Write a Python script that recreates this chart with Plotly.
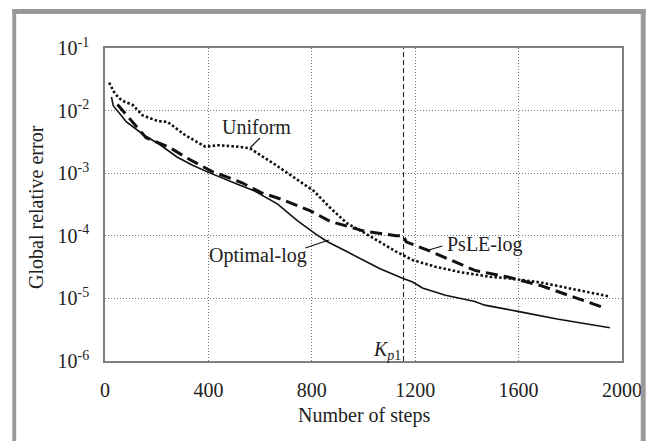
import plotly.graph_objects as go

# ---------------- data ----------------
optimal_x = [25, 32, 83, 153, 210, 280, 337, 398, 515, 579, 668, 744, 814, 859, 935, 999,
             1062, 1151, 1190, 1228, 1317, 1431, 1469, 1597, 1749, 1953]
optimal_y = [1.65e-2, 1.2e-2, 6.6e-3, 4.0e-3, 2.9e-3, 1.8e-3, 1.35e-3, 1.04e-3, 6.6e-4, 5.2e-4,
             3.2e-4, 1.75e-4, 1.07e-4, 8.1e-5, 5.6e-5, 4.1e-5, 3.0e-5, 2.1e-5, 1.83e-5, 1.47e-5,
             1.12e-5, 8.9e-6, 7.8e-6, 6.2e-6, 4.7e-6, 3.4e-6]

psle_x = [48, 159, 248, 318, 413, 528, 604, 693, 795, 871, 999, 1126, 1155, 1165, 1253,
          1380, 1431, 1558, 1686, 1813, 1940]
psle_y = [1.25e-2, 3.7e-3, 2.6e-3, 1.74e-3, 1.07e-3, 7.1e-4, 4.9e-4, 3.7e-4, 2.5e-4, 1.7e-4,
          1.2e-4, 1.0e-4, 1.0e-4, 8.0e-5, 5.8e-5, 3.4e-5, 2.8e-5, 2.2e-5, 1.6e-5, 1.05e-5, 6.9e-6]

uniform_x = [16, 38, 64, 108, 146, 204, 242, 312, 388, 439, 515, 560, 655, 732, 808, 871,
             935, 999, 1062, 1126, 1190, 1279, 1380, 1495, 1558, 1686, 1813, 1953]
uniform_y = [2.8e-2, 1.87e-2, 1.46e-2, 1.22e-2, 8.4e-3, 6.8e-3, 6.6e-3, 4.0e-3, 2.65e-3, 2.8e-3,
             2.65e-3, 2.5e-3, 1.4e-3, 8.5e-4, 5.2e-4, 2.8e-4, 1.6e-4, 1.14e-4, 8.1e-5, 5.6e-5,
             4.1e-5, 3.2e-5, 2.6e-5, 2.2e-5, 2.1e-5, 1.8e-5, 1.4e-5, 1.07e-5]

kp1 = 1155

x_ticks = [0, 400, 800, 1200, 1600, 2000]
y_ticks = [1e-6, 1e-5, 1e-4, 1e-3, 1e-2, 1e-1]
y_ticktext = ["10<sup>-6</sup>", "10<sup>-5</sup>", "10<sup>-4</sup>",
              "10<sup>-3</sup>", "10<sup>-2</sup>", "10<sup>-1</sup>"]

# ---------------- layout geometry ----------------
W, H = 654, 441
L, R, T, B = 105, 25, 48, 80
PW, PH = W - L - R, H - T - B


def px(xp):
    return (xp - L) / PW


def py(yp):
    return 1 - (yp - T) / PH


FONT = "Liberation Serif"
TXT = "#222222"

fig = go.Figure()
fig.add_trace(go.Scatter(x=optimal_x, y=optimal_y, mode="lines", name="Optimal-log",
                         line=dict(color="#111111", width=1.6)))
fig.add_trace(go.Scatter(x=psle_x, y=psle_y, mode="lines", name="PsLE-log",
                         line=dict(color="#111111", width=3, dash="12px,6px")))
fig.add_trace(go.Scatter(x=uniform_x, y=uniform_y, mode="lines", name="Uniform",
                         line=dict(color="#111111", width=2.6, dash="2.5px,2.2px")))

shapes = []
# Kp1 vertical dashed line
shapes.append(dict(type="line", xref="x", yref="paper", x0=kp1, x1=kp1, y0=0, y1=1,
                   line=dict(color="#111111", width=1, dash="5px,3px")))
# outer grey frame
GREY = "#999999"
shapes.append(dict(type="rect", xref="paper", yref="paper", x0=px(11), x1=px(15),
                   y0=py(441), y1=py(9), fillcolor=GREY, line=dict(width=0), layer="above"))
shapes.append(dict(type="rect", xref="paper", yref="paper", x0=px(11), x1=px(653),
                   y0=py(14), y1=py(9), fillcolor=GREY, line=dict(width=0), layer="above"))
shapes.append(dict(type="rect", xref="paper", yref="paper", x0=px(648), x1=px(653),
                   y0=py(441), y1=py(9), fillcolor=GREY, line=dict(width=0), layer="above"))
# label pointer lines
for (a, b, c, d) in [(262, 138, 252, 148), (308, 248, 332, 240), (433, 250, 447, 246)]:
    shapes.append(dict(type="line", xref="paper", yref="paper", x0=px(a), y0=py(b),
                       x1=px(c), y1=py(d), line=dict(color="#111111", width=1.2)))

annotations = [
    dict(text="Uniform", x=px(259), y=py(127)),
    dict(text="Optimal-log", x=px(260), y=py(255)),
    dict(text="PsLE-log", x=px(490), y=py(244)),
    dict(text="<i>K</i><sub><i>p</i>1</sub>", x=px(391), y=py(350)),
    dict(text="Number of steps", x=px(368), y=py(415)),
    dict(text="Global relative error", x=px(35), y=py(207), textangle=-90),
]
for a in annotations:
    a.update(xref="paper", yref="paper", showarrow=False, xanchor="center", yanchor="middle",
             font=dict(family=FONT, size=20, color=TXT))

fig.update_layout(
    width=W, height=H,
    margin=dict(l=L, r=R, t=T, b=B),
    paper_bgcolor="white", plot_bgcolor="white",
    showlegend=False,
    shapes=shapes, annotations=annotations,
    font=dict(family=FONT, size=20, color=TXT),
)
fig.update_xaxes(range=[0, 2000], tickvals=x_ticks, ticks="", showline=True, mirror=True,
                 linecolor="#808080", linewidth=1.5, showgrid=True, gridcolor="#777777",
                 griddash="1px,2px", gridwidth=1, zeroline=False, ticklabelstandoff=10,
                 tickfont=dict(family=FONT, size=20, color=TXT))
fig.update_yaxes(type="log", range=[-6, -1], tickvals=y_ticks, ticktext=y_ticktext, ticks="",
                 showline=True, mirror=True, linecolor="#808080", linewidth=1.5, showgrid=True,
                 gridcolor="#777777", griddash="1px,2px", gridwidth=1, zeroline=False,
                 ticklabelstandoff=10, tickfont=dict(family=FONT, size=20, color=TXT))

fig.write_html("out.html")
